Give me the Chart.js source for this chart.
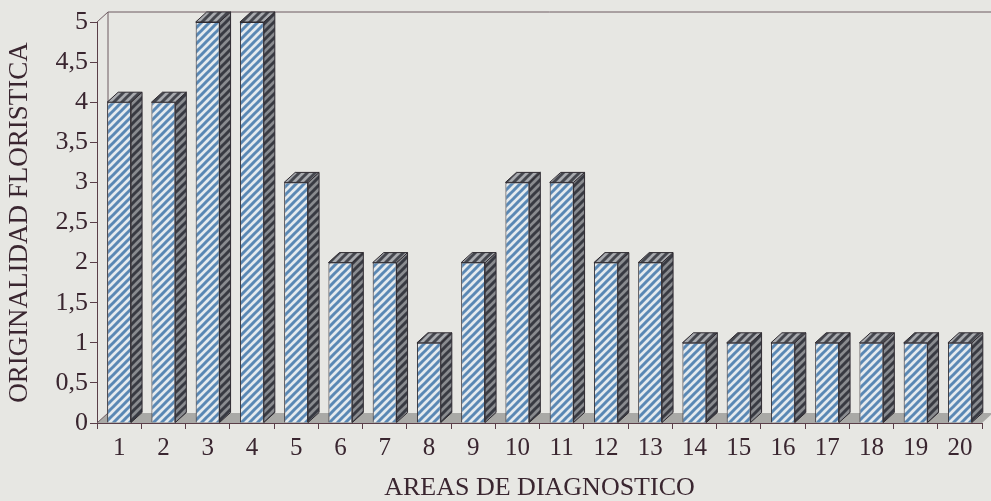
<!DOCTYPE html>
<html>
<head>
<meta charset="utf-8">
<script src="https://cdn.jsdelivr.net/npm/chart.js@4"></script>
<style>
  html, body { margin: 0; padding: 0; background: #e7e7e3; }
  #wrap { width: 991px; height: 501px; }
</style>
</head>
<body>
<div id="wrap"><canvas id="areasChart"></canvas></div>
<script>
let areas = ["1", "2", "3", "4", "5", "6", "7", "8", "9", "10",
  "11", "12", "13", "14", "15", "16", "17", "18", "19", "20"];
let originalidad = [4, 4, 5, 5, 3, 2, 2, 1, 2, 3, 3, 2, 2, 1, 1, 1, 1, 1, 1, 1];
let yTicks = [0, 0.5, 1, 1.5, 2, 2.5, 3, 3.5, 4, 4.5, 5];

const inkColor = "#3a2630";
const depthX = 11;
const depthY = 10;

// diagonal hatch pattern
let hatch = (base, stripe) => {
  const n = 8;
  const c = document.createElement("canvas");
  c.width = n;
  c.height = n;
  const g = c.getContext("2d");
  g.fillStyle = base;
  g.fillRect(0, 0, n, n);
  g.strokeStyle = stripe;
  g.lineWidth = 3;
  g.beginPath();
  for (let k = -n; k <= 2 * n; k += n) {
    g.moveTo(k - 1, n + 1);
    g.lineTo(k + n + 1, -1);
  }
  g.stroke();
  return g.createPattern(c, "repeat");
};

const frontFill = hatch("#e4eaee", "#5a88b4");
const sideFill = hatch("#8a8c90", "#383a42");
const topFill = hatch("#a8aaae", "#45474e");

let frame3d = {
  id: "frame3d",
  beforeDatasetsDraw(chart) {
    const ctx = chart.ctx;
    const a = chart.chartArea;
    ctx.save();
    // floor
    ctx.fillStyle = "#a9a9a6";
    ctx.beginPath();
    ctx.moveTo(a.left, a.bottom);
    ctx.lineTo(a.right, a.bottom);
    ctx.lineTo(a.right + depthX, a.bottom - depthY);
    ctx.lineTo(a.left + depthX, a.bottom - depthY);
    ctx.closePath();
    ctx.fill();
    ctx.strokeStyle = "#6d5a60";
    ctx.lineWidth = 1;
    ctx.beginPath();
    ctx.moveTo(a.left, a.top);
    ctx.lineTo(a.left + depthX, a.top - depthY);
    ctx.lineTo(chart.width, a.top - depthY);
    ctx.moveTo(a.left + depthX, a.top - depthY);
    ctx.lineTo(a.left + depthX, a.bottom - depthY);
    ctx.lineTo(a.left, a.bottom);
    ctx.stroke();
    ctx.restore();
  },
  afterDatasetsDraw(chart) {
    const ctx = chart.ctx;
    const meta = chart.getDatasetMeta(0);
    ctx.save();
    ctx.strokeStyle = "#2e2a30";
    ctx.lineWidth = 1;
    meta.data.forEach((bar) => {
      const p = bar.getProps(["x", "y", "base", "width"], true);
      const l = p.x - p.width / 2;
      const r = p.x + p.width / 2;
      // side face
      ctx.fillStyle = sideFill;
      ctx.beginPath();
      ctx.moveTo(r, p.y);
      ctx.lineTo(r + depthX, p.y - depthY);
      ctx.lineTo(r + depthX, p.base - depthY);
      ctx.lineTo(r, p.base);
      ctx.closePath();
      ctx.fill();
      ctx.stroke();
      // top face
      ctx.fillStyle = topFill;
      ctx.beginPath();
      ctx.moveTo(l, p.y);
      ctx.lineTo(l + depthX, p.y - depthY);
      ctx.lineTo(r + depthX, p.y - depthY);
      ctx.lineTo(r, p.y);
      ctx.closePath();
      ctx.fill();
      ctx.stroke();
    });
    ctx.restore();
  },
};

let areasChart = () => {
  new Chart("areasChart", {
    type: "bar",
    data: {
      labels: areas,
      datasets: [
        {
          data: originalidad,
          backgroundColor: frontFill,
          borderColor: "#2e2a30",
          borderWidth: 1,
          barPercentage: 0.54,
          categoryPercentage: 1,
        },
      ],
    },
    options: {
      responsive: true,
      maintainAspectRatio: false,
      animation: false,
      layout: { padding: { left: 6, top: 22, right: 9, bottom: 0 } },
      plugins: { legend: { display: false }, tooltip: { enabled: false } },
      scales: {
        x: {
          afterFit: (s) => { s.height = 78; },
          grid: {
            offset: true,
            drawOnChartArea: false,
            tickLength: 6,
            color: "#5a3e48",
          },
          border: { color: "#5a3e48" },
          ticks: {
            color: inkColor,
            padding: 4,
            font: { family: "Liberation Serif", size: 25 },
            maxRotation: 0,
          },
          title: {
            display: true,
            text: "AREAS DE DIAGNOSTICO",
            color: inkColor,
            font: { family: "Liberation Serif", size: 26, lineHeight: 1 },
            padding: { top: 0, bottom: 0 },
          },
        },
        y: {
          min: 0,
          max: 5,
          afterFit: (s) => { s.width = 91; },
          afterBuildTicks: (s) => { s.ticks = yTicks.map((v) => ({ value: v })); },
          grid: {
            drawOnChartArea: false,
            tickLength: 7,
            color: "#5a3e48",
          },
          border: { color: "#5a3e48" },
          ticks: {
            color: inkColor,
            padding: 2,
            font: { family: "Liberation Serif", size: 26 },
            callback: (v) => String(v).replace(".", ","),
          },
          title: {
            display: true,
            text: "ORIGINALIDAD FLORISTICA",
            color: inkColor,
            font: { family: "Liberation Serif", size: 27, lineHeight: 1 },
            padding: { top: 0, bottom: 0 },
          },
        },
      },
    },
    plugins: [frame3d],
  });
};

areasChart();
</script>
</body>
</html>
